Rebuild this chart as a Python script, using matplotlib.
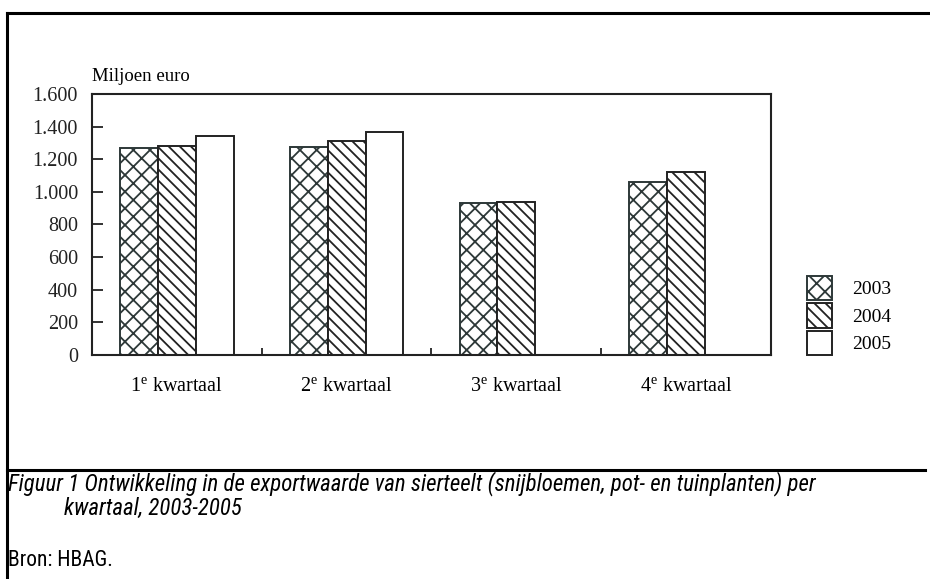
import numpy as np
import matplotlib
matplotlib.use("Agg")
import matplotlib.pyplot as plt
from matplotlib.lines import Line2D

plt.rcParams['font.family'] = ['Liberation Serif', 'DejaVu Serif']
plt.rcParams['mathtext.fontset'] = 'custom'
plt.rcParams['mathtext.rm'] = 'Liberation Serif'
plt.rcParams['hatch.linewidth'] = 1.3

# data (miljoen euro)
quarters = ["1$^{\\mathrm{e}}$ kwartaal", "2$^{\\mathrm{e}}$ kwartaal",
            "3$^{\\mathrm{e}}$ kwartaal", "4$^{\\mathrm{e}}$ kwartaal"]
years = ["2003", "2004", "2005"]
v2003 = [1267, 1275, 930, 1063]
v2004 = [1283, 1310, 940, 1120]
v2005 = [1343, 1367, np.nan, np.nan]
yticks = [0, 200, 400, 600, 800, 1000, 1200, 1400, 1600]

fig = plt.figure(figsize=(9.3, 5.79), dpi=100)
ax = fig.add_axes([0.0989, 0.3869, 0.7301, 0.4508])

x = np.arange(len(quarters))
w = 0.223
styles = [dict(hatch='xx', edgecolor='#2d3838'),
          dict(hatch='\\\\\\', edgecolor='#222222'),
          dict(hatch=None, edgecolor='#222222')]
for i, (vals, yr) in enumerate(zip([v2003, v2004, v2005], years)):
    ax.bar(x + (i - 1) * w, vals, w, facecolor='white', linewidth=1.4,
           label=yr, **styles[i])

ax.set_xlim(-0.5, 3.5)
ax.set_ylim(0, 1600)
ax.set_yticks(yticks)
ax.set_yticklabels([f"{v:,}".replace(",", ".") for v in yticks], fontsize=14.5)
ax.tick_params(axis='y', direction='in', length=8, width=1.3, pad=10, colors='#222222')
ax.set_xticks(x)
ax.set_xticklabels(quarters, fontsize=14.5)
ax.set_xticks([0.5, 1.5, 2.5], minor=True)
ax.tick_params(axis='x', which='major', length=0, pad=16.5)
ax.tick_params(axis='x', which='minor', direction='in', length=5, width=1.3, color='#222222')
for s in ax.spines.values():
    s.set_linewidth(1.5)
    s.set_color('#222222')

ax.text(0.0, 1.035, "Miljoen euro", transform=ax.transAxes, fontsize=13.5,
        ha='left', va='bottom')

leg = ax.legend(loc='lower left', bbox_to_anchor=(1.053, 0.0), frameon=False,
                fontsize=14, handlelength=1.3, handleheight=1.56,
                labelspacing=0.15, handletextpad=1.0, borderaxespad=0, borderpad=0)

# page frame
fig.add_artist(Line2D([0.0075, 1.0], [0.9775, 0.9775], color='black', lw=2.2))
fig.add_artist(Line2D([0.0075, 0.0075], [0.0, 0.9775], color='black', lw=2.2))
fig.add_artist(Line2D([0.0075, 0.995], [0.188, 0.188], color='black', lw=2.2))

cap = dict(family=['Roboto Condensed', 'DejaVu Sans'])
fig.text(8 / 930, 1 - 484 / 579, "Figuur 1 Ontwikkeling in de exportwaarde van sierteelt "
         "(snijbloemen, pot- en tuinplanten) per", style='italic', va='center',
         fontsize=16.5, **cap)
fig.text(64 / 930, 1 - 508 / 579, "kwartaal, 2003-2005", style='italic', va='center',
         fontsize=16.5, **cap)
fig.text(8 / 930, 1 - 560 / 579, "Bron: HBAG.", va='center', fontsize=15.5, **cap)

fig.savefig("out.png", dpi=100)
